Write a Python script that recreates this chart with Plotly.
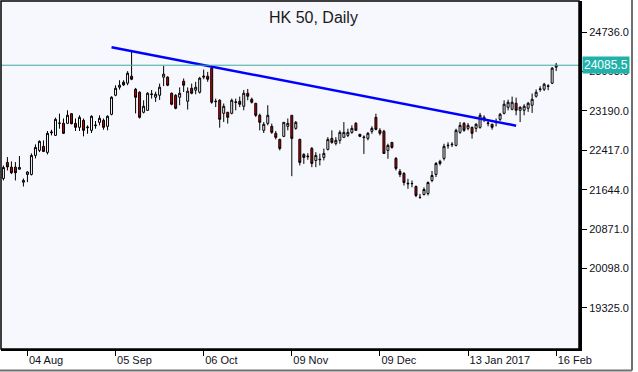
import plotly.graph_objects as go

title_text = "HK 50, Daily"

opens = [21863, 22178, 22086, 22086, 22045, 21790, 21942, 21942, 22316, 22414,
         22493, 22375, 22760, 22709, 22945, 22945, 22945, 23135, 22945, 22867,
         23004, 22860, 22808, 22900, 22965, 23004, 22886, 23122, 23496, 23654,
         23752, 23733, 23870, 23614, 23555, 23162, 23201, 23510, 23457, 23496,
         23851, 23851, 23536, 23496, 23457, 23772, 23378, 23634, 23595, 23555,
         23851, 23870, 24028, 23370, 23398, 23142, 23162, 23142, 23355, 23378,
         23280, 23536, 23418, 23339, 23103, 22808, 22945, 22886, 22749, 22630,
         22690, 22886, 23103, 22847, 22630, 22335, 22290, 22453, 22217, 22230,
         22276, 22434, 22650, 22552, 22611, 22670, 22709, 22768, 22945, 22729,
         22665, 22650, 22788, 23063, 22808, 22788, 22414, 22571, 22257, 22001,
         21961, 21770, 21760, 21706, 21495, 21548, 21568, 21824, 21942, 22158,
         22257, 22505, 22525, 22512, 22768, 22945, 22847, 22867, 22847, 22867,
         23024, 22940, 22926, 22960, 23024, 23142, 23260, 23221, 23339, 23201,
         23201, 23241, 23300, 23477, 23610, 23614, 23670, 23733, 24047]
highs = [22119, 22283, 22198, 22185, 22303, 21863, 22007, 22355, 22532, 22611,
         22611, 22795, 22820, 23056, 23135, 23040, 23201, 23135, 23040, 23103,
         23040, 22906, 23103, 22990, 23103, 23040, 23103, 23477, 23693, 23792,
         23792, 23969, 24382, 23640, 23575, 23398, 23555, 23600, 23565, 23725,
         24073, 23870, 23550, 23516, 23650, 23825, 23650, 23725, 23760, 23857,
         24000, 23955, 24050, 23430, 23418, 23335, 23170, 23430, 23430, 23470,
         23600, 23620, 23450, 23345, 23135, 22970, 23300, 22940, 22795, 22645,
         22970, 23040, 23103, 22990, 22645, 22360, 22360, 22480, 22380, 22350,
         22450, 22675, 22808, 22675, 22808, 22970, 22840, 22906, 22970, 22740,
         22709, 22775, 22886, 23135, 22850, 22820, 22545, 22580, 22283, 22050,
         21990, 21857, 21824, 21725, 21560, 21690, 21804, 22010, 22185, 22230,
         22545, 22575, 22575, 22840, 22970, 22970, 22950, 22880, 22950, 23150,
         23103, 23004, 22940, 23040, 23150, 23398, 23410, 23470, 23450, 23280,
         23320, 23365, 23530, 23610, 23674, 23740, 23713, 24050, 24130]
lows = [21824, 22021, 21950, 21824, 22040, 21706, 21791, 21922, 22257, 22381,
        22381, 22335, 22709, 22697, 22840, 22740, 22940, 22926, 22795, 22795,
        22690, 22740, 22755, 22840, 22906, 22820, 22808, 23103, 23477, 23608,
        23680, 23693, 23792, 23140, 23040, 23140, 23190, 23430, 23365, 23405,
        23674, 23674, 23300, 23221, 23300, 23560, 23215, 23516, 23516, 23530,
        23811, 23760, 23330, 23265, 22860, 22970, 22940, 23122, 23201, 23265,
        23201, 23398, 23335, 23070, 22808, 22755, 22906, 22740, 22630, 22414,
        22675, 22808, 21908, 22820, 22119, 22150, 22230, 22085, 22085, 22119,
        22217, 22414, 22545, 22512, 22545, 22670, 22675, 22740, 22795, 22675,
        22345, 22611, 22740, 22808, 22709, 22345, 22250, 22447, 22021, 21890,
        21725, 21660, 21690, 21496, 21465, 21529, 21529, 21790, 21890, 22119,
        22217, 22447, 22480, 22493, 22740, 22780, 22808, 22645, 22775, 22840,
        22970, 22886, 22820, 22886, 22990, 23122, 23201, 23201, 23103, 22970,
        23103, 23170, 23150, 23450, 23565, 23580, 23595, 23715, 23970]
closes = [22080, 22090, 21975, 21975, 22080, 21824, 21990, 22316, 22473, 22591,
          22394, 22749, 22775, 23024, 22950, 22749, 23103, 22938, 22867, 23063,
          22808, 22870, 23083, 22910, 23044, 22867, 23083, 23457, 23634, 23693,
          23700, 23929, 23811, 23457, 23063, 23280, 23536, 23520, 23516, 23654,
          23910, 23693, 23319, 23241, 23536, 23693, 23575, 23536, 23654, 23831,
          23870, 23811, 23359, 23378, 23024, 23280, 23063, 23398, 23365, 23319,
          23536, 23477, 23359, 23103, 22965, 22926, 23103, 22768, 22670, 22453,
          22965, 22945, 22650, 22965, 22178, 22276, 22300, 22158, 22316, 22240,
          22355, 22630, 22571, 22611, 22768, 22768, 22768, 22847, 22808, 22690,
          22675, 22749, 22847, 22827, 22749, 22355, 22512, 22473, 22060, 21942,
          21784, 21760, 21765, 21529, 21490, 21647, 21784, 21922, 22158, 22198,
          22493, 22515, 22535, 22808, 22906, 22808, 22906, 22749, 22926, 23103,
          23063, 22950, 22867, 22970, 23122, 23319, 23359, 23359, 23201, 23260,
          23280, 23339, 23418, 23555, 23620, 23713, 23680, 24028, 24085.5]

bar_index = list(range(len(closes)))

x_tick_index = [6, 28, 50, 72, 94, 116, 138]
x_tick_text = ["04 Aug", "05 Sep", "06 Oct", "09 Nov", "09 Dec", "13 Jan 2017", "16 Feb"]

y_tick_values = [19325.0, 20098.0, 20871.0, 21644.0, 22417.0, 23190.0, 23963.0, 24736.0]

trend_index = [27, 128]
trend_price = [24440, 22900]

last_price = closes[-1]

fig = go.Figure()

fig.add_trace(go.Candlestick(
    x=bar_index, open=opens, high=highs, low=lows, close=closes,
    increasing=dict(line=dict(color="black", width=1), fillcolor="white"),
    decreasing=dict(line=dict(color="black", width=1), fillcolor="#C80000"),
    whiskerwidth=0, showlegend=False, hoverinfo="skip",
))

fig.add_trace(go.Scatter(
    x=trend_index, y=trend_price, mode="lines",
    line=dict(color="#0000FF", width=2.5), showlegend=False, hoverinfo="skip",
))

fig.add_shape(type="line", xref="paper", x0=0, x1=1, yref="y", y0=last_price, y1=last_price,
              line=dict(color="#3FA9A0", width=1), layer="above")

fig.add_annotation(xref="paper", x=1, xanchor="left", xshift=3, yref="y", y=last_price,
                   text=f"{last_price:.1f}", showarrow=False,
                   font=dict(family="Liberation Sans, Arial", size=12, color="white"),
                   bgcolor="#20B2AA", borderpad=1)

fig.add_annotation(xref="paper", yref="paper", x=0.5415, y=0.982, yanchor="top",
                   text=title_text, showarrow=False,
                   font=dict(family="Liberation Sans, Arial", size=16, color="#1a1a1a"))

# plot-area frame
fig.add_shape(type="rect", xref="paper", yref="paper", x0=0, x1=1, y0=0, y1=1,
              line=dict(color="black", width=1.5), layer="above")
# outer window frame (right / bottom)
fig.add_shape(type="line", xref="paper", yref="paper", x0=1.0917, x1=1.0917, y0=-0.062, y1=1.003,
              line=dict(color="#707070", width=2))
fig.add_shape(type="line", xref="paper", yref="paper", x0=-0.002, x1=1.0917, y0=-0.062, y1=-0.062,
              line=dict(color="#707070", width=2))

fig.update_layout(
    width=638, height=372,
    margin=dict(l=1, r=59, t=1, b=23),
    paper_bgcolor="white", plot_bgcolor="#F6F8FD",
    xaxis=dict(
        range=[-0.6, 143.7], rangeslider=dict(visible=False),
        tickmode="array", tickvals=x_tick_index, ticktext=x_tick_text,
        ticks="outside", ticklen=5, tickcolor="black", tickwidth=1,
        ticklabelposition="outside right",
        showgrid=False, zeroline=False,
        showline=True, linecolor="black", linewidth=2,
        tickfont=dict(family="Liberation Sans, Arial", size=11, color="#101020"),
    ),
    yaxis=dict(
        side="right", range=[18517, 25346],
        tickmode="array", tickvals=y_tick_values,
        ticktext=[f"{v:.1f}" for v in y_tick_values],
        ticks="outside", ticklen=5, tickcolor="black", tickwidth=1,
        showgrid=False, zeroline=False,
        showline=True, linecolor="black", linewidth=3,
        tickfont=dict(family="Liberation Sans, Arial", size=11, color="#101020"),
    ),
)

fig.write_html("out.html", config={"displayModeBar": False},
               post_script="document.body.style.margin='0';document.body.style.overflow='hidden';")
